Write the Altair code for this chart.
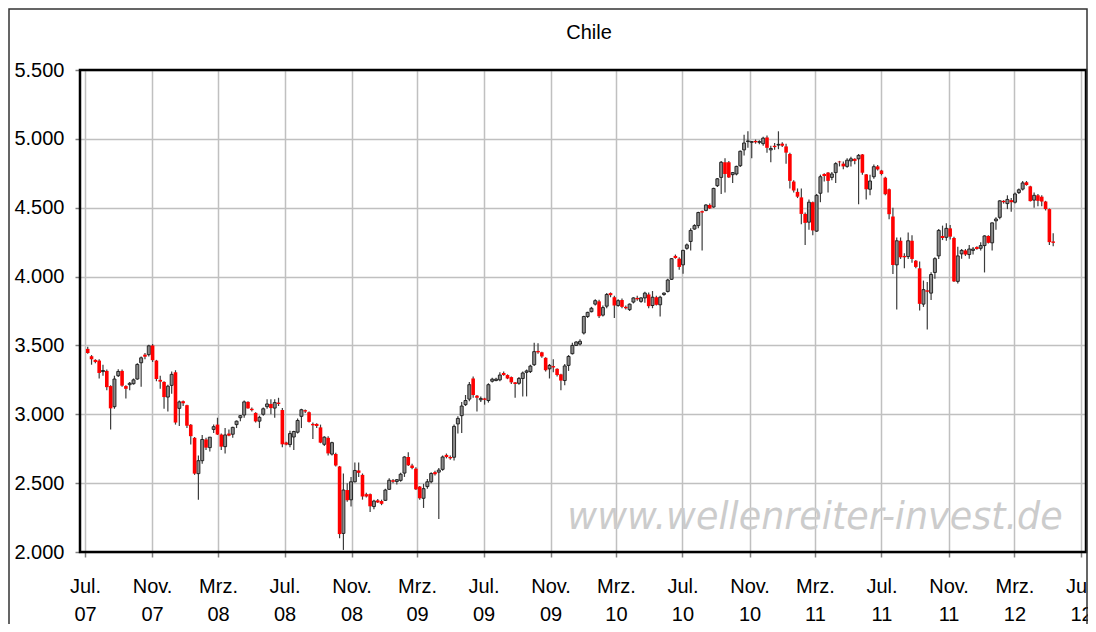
import altair as alt
import pandas as pd

title_text = "Chile"
watermark = "www.wellenreiter-invest.de"

opens = [
    3475, 3422, 3395, 3390, 3310, 3315, 3205, 3055, 3280, 3315,
    3205, 3215, 3222, 3256, 3374, 3433, 3433, 3500, 3390, 3250,
    3235, 3125, 3210, 3305, 3043, 3095, 3066, 2924, 2829, 2569,
    2663, 2817, 2758, 2890, 2925, 2853, 2765, 2860, 2855, 2925,
    2975, 2995, 3090, 3040, 3010, 2950, 3000, 3055, 3075, 3045,
    3085, 3031, 2795, 2780, 2835, 2870, 2985, 3030, 3015, 2930,
    2930, 2905, 2782, 2829, 2711, 2711, 2621, 2135, 2450, 2379,
    2510, 2592, 2560, 2420, 2420, 2330, 2375, 2370, 2375, 2455,
    2521, 2512, 2520, 2573, 2690, 2628, 2605, 2475, 2390, 2475,
    2510, 2580, 2580, 2600, 2705, 2690, 2688, 2930, 2990, 3070,
    3110, 3260, 3135, 3105, 3115, 3100, 3240, 3245, 3250, 3300,
    3285, 3270, 3232, 3225, 3260, 3305, 3310, 3360, 3460, 3450,
    3410, 3330, 3350, 3330, 3290, 3245, 3355, 3440, 3500, 3510,
    3590, 3710, 3745, 3800, 3820, 3720, 3785, 3880, 3850, 3790,
    3830, 3780, 3760, 3815, 3845, 3820, 3845, 3870, 3790, 3850,
    3795, 3870, 3892, 3980, 4150, 4130, 4085, 4205, 4255, 4345,
    4370, 4475, 4480, 4520, 4505, 4660, 4720, 4830, 4830, 4740,
    4745, 4805, 4920, 4980, 4975, 4985, 4975, 4965, 5010, 4920,
    4950, 4955, 4965, 4945, 4890, 4690, 4615, 4575, 4455, 4395,
    4540, 4330, 4605, 4745, 4755, 4720, 4755, 4835, 4820, 4800,
    4840, 4855, 4855, 4887, 4742, 4634, 4725, 4800, 4770, 4718,
    4634, 4436, 4085, 4260, 4150, 4145, 4260, 4115, 4060, 3800,
    3900, 3880, 4030, 4150, 4295, 4285, 4350, 4280, 3965, 4165,
    4190, 4160, 4190, 4215, 4205, 4225, 4295, 4245, 4405, 4430,
    4550, 4530, 4555, 4540, 4610, 4635, 4685, 4655, 4555, 4590,
    4580, 4545, 4490, 4255,
]

highs = [
    3490, 3430, 3400, 3400, 3360, 3325, 3210, 3280, 3327, 3325,
    3210, 3235, 3260, 3370, 3420, 3445, 3505, 3510, 3395, 3280,
    3240, 3215, 3310, 3320, 3100, 3100, 3070, 2930, 2835, 2700,
    2850, 2830, 2835, 2925, 2975, 2860, 2900, 2890, 2910, 2955,
    2995, 3100, 3095, 3050, 3015, 2990, 3050, 3110, 3110, 3110,
    3120, 3045, 2800, 2880, 2880, 2970, 3040, 3035, 3020, 2940,
    2935, 2925, 2840, 2840, 2800, 2720, 2625, 2570, 2500, 2545,
    2650, 2650, 2570, 2430, 2425, 2380, 2385, 2380, 2460, 2535,
    2530, 2530, 2575, 2695, 2725, 2640, 2615, 2480, 2495, 2530,
    2580, 2590, 2610, 2700, 2715, 2700, 2925, 2985, 3090, 3140,
    3235, 3275, 3140, 3130, 3120, 3225, 3265, 3265, 3305, 3310,
    3290, 3275, 3235, 3270, 3310, 3325, 3360, 3520, 3515, 3455,
    3415, 3365, 3400, 3335, 3295, 3365, 3430, 3520, 3530, 3545,
    3715, 3745, 3780, 3835, 3832, 3790, 3880, 3885, 3860, 3835,
    3840, 3790, 3805, 3850, 3860, 3850, 3890, 3885, 3895, 3860,
    3860, 3885, 3985, 4135, 4160, 4140, 4195, 4240, 4350, 4380,
    4470, 4480, 4525, 4530, 4645, 4715, 4840, 4860, 4840, 4760,
    4805, 4915, 5030, 5055, 4985, 4995, 4990, 5015, 5025, 4950,
    4970, 5055, 4975, 4965, 4900, 4700, 4640, 4640, 4465, 4560,
    4545, 4600, 4740, 4750, 4760, 4760, 4830, 4840, 4835, 4860,
    4870, 4860, 4890, 4890, 4745, 4740, 4814, 4810, 4775, 4725,
    4640, 4500, 4284, 4284, 4170, 4320, 4300, 4120, 4110, 3971,
    3960, 4031, 4140, 4345, 4370, 4388, 4375, 4290, 4216, 4200,
    4200, 4230, 4215, 4220, 4250, 4300, 4300, 4393, 4430, 4555,
    4555, 4590, 4570, 4610, 4640, 4694, 4694, 4660, 4610, 4600,
    4590, 4550, 4495, 4315,
]

lows = [
    3440, 3360, 3370, 3260, 3280, 3175, 2890, 3040, 3270, 3200,
    3114, 3175, 3215, 3250, 3200, 3400, 3420, 3380, 3240, 3185,
    3040, 3020, 3150, 2925, 2915, 3060, 2900, 2780, 2560, 2380,
    2640, 2740, 2730, 2865, 2850, 2740, 2715, 2840, 2830, 2900,
    2950, 2975, 3040, 3020, 2940, 2900, 2990, 3040, 3000, 2975,
    3060, 2760, 2775, 2760, 2740, 2860, 2900, 3010, 2940, 2820,
    2900, 2790, 2770, 2700, 2700, 2620, 2100, 2015, 2365, 2330,
    2505, 2545, 2380, 2395, 2290, 2310, 2355, 2340, 2370, 2450,
    2500, 2490, 2510, 2545, 2625, 2600, 2450, 2380, 2320, 2460,
    2500, 2555, 2240, 2590, 2680, 2670, 2665, 2860, 2865, 3060,
    3095, 3120, 3020, 3090, 3070, 3085, 3230, 3240, 3240, 3280,
    3255, 3220, 3120, 3215, 3130, 3130, 3300, 3350, 3440, 3410,
    3310, 3260, 3305, 3275, 3175, 3210, 3315, 3435, 3495, 3500,
    3580, 3700, 3740, 3790, 3700, 3710, 3770, 3850, 3700, 3780,
    3770, 3760, 3750, 3805, 3825, 3810, 3810, 3770, 3770, 3790,
    3710, 3860, 3885, 3975, 4130, 4050, 4020, 4195, 4190, 4340,
    4350, 4190, 4475, 4490, 4500, 4650, 4600, 4610, 4715, 4680,
    4735, 4795, 4880, 4935, 4860, 4965, 4960, 4950, 4900, 4830,
    4920, 4925, 4940, 4820, 4640, 4610, 4570, 4380, 4230, 4340,
    4300, 4325, 4540, 4690, 4610, 4700, 4680, 4800, 4780, 4790,
    4800, 4815, 4525, 4740, 4560, 4590, 4710, 4770, 4735, 4590,
    4417, 4019, 3760, 4128, 4060, 4128, 4100, 4060, 3754, 3780,
    3615, 3830, 3985, 4128, 4265, 4260, 4270, 3960, 3950, 4130,
    4150, 4130, 4160, 4195, 4190, 4030, 4240, 4190, 4340, 4417,
    4530, 4490, 4470, 4530, 4600, 4625, 4660, 4545, 4500, 4510,
    4510, 4480, 4230, 4220,
]

closes = [
    3445, 3400, 3380, 3300, 3318, 3197, 3043, 3256, 3311, 3208,
    3185, 3225, 3250, 3362, 3410, 3418, 3497, 3393, 3256, 3237,
    3125, 3204, 3290, 2940, 3090, 3080, 2917, 2841, 2569, 2663,
    2817, 2758, 2834, 2910, 2853, 2765, 2850, 2845, 2905, 2950,
    2990, 3090, 3043, 3030, 2948, 2978, 3040, 3075, 3045, 3085,
    3075, 2782, 2780, 2860, 2875, 2955, 3033, 3020, 2945, 2920,
    2915, 2794, 2834, 2716, 2794, 2628, 2130, 2450, 2376, 2510,
    2592, 2575, 2403, 2403, 2332, 2370, 2360, 2350, 2450, 2521,
    2510, 2525, 2565, 2690, 2630, 2610, 2455, 2390, 2460, 2510,
    2570, 2565, 2595, 2690, 2690, 2680, 2912, 2970, 3060, 3100,
    3215, 3140, 3120, 3115, 3105, 3215, 3255, 3255, 3285, 3285,
    3260, 3232, 3220, 3260, 3300, 3315, 3350, 3455, 3450, 3420,
    3320, 3355, 3340, 3285, 3245, 3351, 3420, 3500, 3525, 3530,
    3710, 3740, 3770, 3825, 3712, 3775, 3870, 3865, 3790, 3825,
    3780, 3770, 3800, 3845, 3835, 3845, 3880, 3785, 3850, 3795,
    3850, 3880, 3975, 4130, 4135, 4070, 4190, 4230, 4335, 4370,
    4465, 4465, 4520, 4495, 4640, 4710, 4830, 4745, 4720, 4755,
    4800, 4910, 4970, 4985, 4980, 4975, 4980, 5005, 4935, 4930,
    4940, 4960, 4950, 4900, 4695, 4625, 4580, 4455, 4390, 4540,
    4335, 4590, 4725, 4730, 4695, 4745, 4820, 4830, 4800, 4845,
    4855, 4840, 4880, 4754, 4634, 4694, 4798, 4778, 4745, 4598,
    4453, 4084, 4260, 4140, 4140, 4260, 4128, 4070, 3802, 3905,
    3890, 4015, 4130, 4335, 4280, 4350, 4290, 3965, 4150, 4190,
    4160, 4200, 4200, 4200, 4225, 4295, 4245, 4390, 4418, 4550,
    4540, 4560, 4540, 4600, 4630, 4680, 4665, 4548, 4590, 4550,
    4545, 4490, 4250, 4245,
]

tick_months = [(2007, 7), (2007, 11), (2008, 3), (2008, 7), (2008, 11), (2009, 3),
               (2009, 7), (2009, 11), (2010, 3), (2010, 7), (2010, 11), (2011, 3),
               (2011, 7), (2011, 11), (2012, 3), (2012, 7)]
y_ticks = [2000, 2500, 3000, 3500, 4000, 4500, 5000, 5500]

dates = pd.date_range("2007-07-06", periods=len(closes), freq="7D").strftime("%Y-%m-%d").tolist()
df = pd.DataFrame({"date": dates, "open": opens, "high": highs, "low": lows, "close": closes})

W, H = 1006, 482
FONT = "Liberation Sans"

x_axis = alt.Axis(
    values=[alt.DateTime(year=y, month=m, date=1) for (y, m) in tick_months],
    labelExpr="[(month(datum.value) == 6 ? 'Jul.' : (month(datum.value) == 10 ? 'Nov.' : 'Mrz.')), timeFormat(datum.value, '%y')]",
    title=None, grid=True, gridColor="#c0c0c0", gridWidth=1.5, domain=False,
    tickColor="#808080", tickSize=5, tickWidth=1.5, labelFont=FONT, labelFontSize=20,
    labelColor="black", labelFlush=False, labelOverlap=False, labelPadding=19,
    labelLineHeight=28, labelBaseline="top",
)
y_axis = alt.Axis(
    values=y_ticks, labelExpr="replace(format(datum.value, ','), ',', '.')",
    title=None, grid=True, gridColor="#c0c0c0", gridWidth=1.5, domain=False,
    tickColor="#808080", tickSize=5, tickWidth=1.5, labelFont=FONT, labelFontSize=20,
    labelColor="black", labelPadding=11,
)
x_scale = alt.Scale(domain=[alt.DateTime(year=2007, month=7, date=1),
                            alt.DateTime(year=2012, month=7, date=1)])
y_scale = alt.Scale(domain=[2000, 5500], nice=False, zero=False)

base = alt.Chart(df).encode(x=alt.X("date:T", scale=x_scale, axis=x_axis))

wicks = base.mark_rule(color="#3c3c3c", strokeWidth=1.2).encode(
    y=alt.Y("low:Q", scale=y_scale, axis=y_axis), y2="high:Q")
up = base.transform_filter("datum.close >= datum.open").mark_bar(
    size=3, fill="#8c8c8c", stroke="#1a1a1a", strokeWidth=0.9).encode(
    y=alt.Y("open:Q", scale=y_scale, axis=y_axis), y2="close:Q")
down = base.transform_filter("datum.close < datum.open").mark_bar(
    size=3.6, color="#ff0000").encode(
    y=alt.Y("open:Q", scale=y_scale, axis=y_axis), y2="close:Q")

one = pd.DataFrame({"t": [watermark], "title": [title_text]})
wm = alt.Chart(one).mark_text(font="DejaVu Sans", fontStyle="italic", fontSize=36.5,
                              color="#cccccc", align="center", baseline="middle").encode(
    text="t:N", x=alt.value(735), y=alt.value(448))
ttl = alt.Chart(one).mark_text(font=FONT, fontSize=20, color="black",
                               align="center", baseline="middle").encode(
    text="title:N", x=alt.value(509), y=alt.value(-37))
frame = alt.Chart(one).mark_rect(fillOpacity=0, stroke="black", strokeWidth=2.5).encode(
    x=alt.value(0), x2=alt.value(W), y=alt.value(0), y2=alt.value(H))
border = alt.Chart(one).mark_rect(fillOpacity=0, stroke="#333333", strokeWidth=1.5).encode(
    x=alt.value(-71), x2=alt.value(W + 1), y=alt.value(-61), y2=alt.value(H + 80))

chart = alt.layer(wm, wicks, up, down, frame, border, ttl).properties(
    width=W, height=H, autosize="none",
    padding={"left": 72, "top": 62, "right": 2, "bottom": 72},
    background="white",
).configure_view(stroke=None)

chart.save("out.html", embed_options={"renderer": "svg", "actions": False})
